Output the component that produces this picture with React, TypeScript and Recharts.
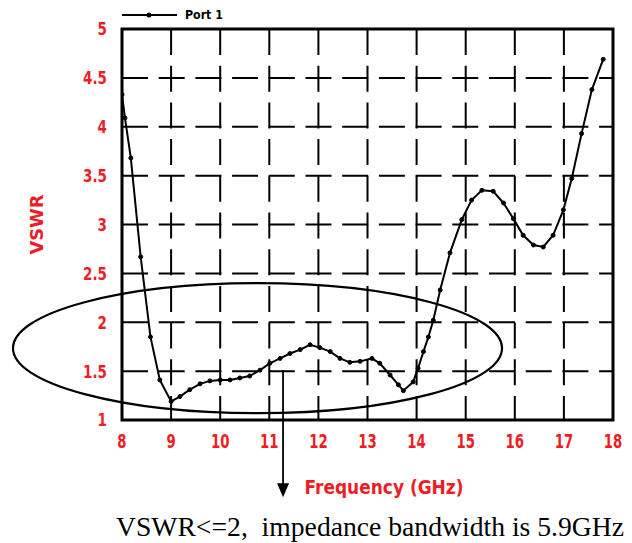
import React from "react";
import {
  LineChart,
  Line,
  XAxis,
  YAxis,
  CartesianGrid,
  ReferenceArea,
  ReferenceLine,
} from "recharts";

// ---- data ----
const FREQ = [
  8.0, 8.06, 8.18, 8.38, 8.58, 8.77, 9.0, 9.18, 9.38, 9.59, 9.79, 10.0, 10.2,
  10.4, 10.6, 10.81, 11.01, 11.22, 11.42, 11.63, 11.83, 12.03, 12.24, 12.44,
  12.64, 12.85, 13.09, 13.25, 13.46, 13.63, 13.73, 13.93, 14.03, 14.14, 14.24,
  14.34, 14.48, 14.68, 14.92, 15.12, 15.33, 15.56, 15.77, 15.97, 16.17, 16.38,
  16.58, 16.78, 16.99, 17.16, 17.36, 17.57, 17.8,
];
const VSWR = [
  4.33, 4.09, 3.68, 2.67, 1.85, 1.41, 1.19, 1.24, 1.31, 1.37, 1.4, 1.41, 1.41,
  1.43, 1.45, 1.51, 1.58, 1.63, 1.68, 1.72, 1.77, 1.74, 1.7, 1.63, 1.59, 1.6,
  1.63, 1.58, 1.46, 1.36, 1.3, 1.39, 1.53, 1.7, 1.85, 2.02, 2.33, 2.71, 3.05,
  3.25, 3.35, 3.34, 3.22, 3.06, 2.89, 2.79, 2.77, 2.89, 3.15, 3.47, 3.93, 4.38,
  4.69,
];
const X_TICKS = [8, 9, 10, 11, 12, 13, 14, 15, 16, 17, 18];
const Y_TICKS = [1, 1.5, 2, 2.5, 3, 3.5, 4, 4.5, 5];
const SERIES_NAME = "Port 1";
const X_TITLE = "Frequency (GHz)";
const Y_TITLE = "VSWR";
const NOTE = "VSWR<=2,\u00a0 impedance bandwidth is 5.9GHz";

// annotation extents in data units
const ELLIPSE_X = [5.78, 15.74];
const ELLIPSE_Y = [1.07, 2.4];
const ARROW_X = 11.28;
const ARROW_Y = [1.51, 0.21];

const data = FREQ.map((f, i) => ({ f, v: VSWR[i] }));

const RED = "#ee1c25";
const LABEL_FONT = "'DejaVu Sans','Noto Sans',sans-serif";

const XLabel = (props: any) => {
  const vb = props.viewBox || { x: 114, y: 412, width: 491, height: 123 };
  return (
    <g>
      <g transform={`translate(${vb.x + 262}, ${vb.y + 74}) scale(0.85, 1)`}>
        <text
          x={0}
          y={0}
          textAnchor="middle"
          fill={RED}
          fontFamily={LABEL_FONT}
          fontWeight="bold"
          fontSize={20}
        >
          {X_TITLE}
        </text>
      </g>
      <text
        x={vb.x - 6}
        y={vb.y + 116}
        fill="#000"
        fontFamily="'Liberation Serif','Times New Roman',serif"
        fontSize={28}
        textLength={508}
        lengthAdjust="spacingAndGlyphs"
      >
        {NOTE}
      </text>
    </g>
  );
};

const YLabel = (props: any) => {
  const vb = props.viewBox || { x: 0, y: 21, width: 114, height: 391 };
  const cx = vb.x + 29;
  const cy = vb.y + vb.height / 2;
  const ax = vb.x + vb.width;
  const ly = vb.y - 14;
  return (
    <g>
      <g transform={`translate(${cx}, ${cy}) rotate(-90) scale(1.05, 1)`}>
        <text
          x={0}
          y={0}
          textAnchor="middle"
          dominantBaseline="central"
          fill={RED}
          fontFamily={LABEL_FONT}
          fontWeight="bold"
          fontSize={17}
        >
          {Y_TITLE}
        </text>
      </g>
      <line x1={ax} y1={ly} x2={ax + 55} y2={ly} stroke="#000" strokeWidth={2} />
      <circle cx={ax + 27} cy={ly} r={2.5} fill="#000" />
      <g transform={`translate(${ax + 63}, ${ly}) scale(0.85, 1)`}>
        <text
          x={0}
          y={0}
          dominantBaseline="central"
          fill="#000"
          fontFamily={LABEL_FONT}
          fontWeight="bold"
          fontSize={13}
        >
          {SERIES_NAME}
        </text>
      </g>
    </g>
  );
};

const XTick = (p: any) => (
  <g transform={`translate(${p.x}, ${p.y}) scale(0.7, 1)`}>
    <text
      x={0}
      y={0}
      dy="0.75em"
      textAnchor="middle"
      fill={RED}
      fontFamily={LABEL_FONT}
      fontWeight="bold"
      fontSize={19}
    >
      {String(p.payload.value)}
    </text>
  </g>
);

const YTick = (p: any) => (
  <g transform={`translate(${p.x}, ${p.y}) scale(0.75, 1)`}>
    <text
      x={0}
      y={0}
      dy="0.36em"
      textAnchor="end"
      fill={RED}
      fontFamily={LABEL_FONT}
      fontWeight="bold"
      fontSize={18}
    >
      {String(p.payload.value)}
    </text>
  </g>
);

const EllipseShape = (p: any) => (
  <ellipse
    cx={p.x + p.width / 2}
    cy={p.y + p.height / 2}
    rx={Math.abs(p.width) / 2}
    ry={Math.abs(p.height) / 2}
    fill="none"
    stroke="#000"
    strokeWidth={2.2}
  />
);

const ArrowShape = (p: any) => {
  const { x1, y1, x2, y2 } = p;
  return (
    <g>
      <line x1={x1} y1={y1} x2={x2} y2={y2 - 12} stroke="#000" strokeWidth={1.8} />
      <polygon
        points={`${x2 - 6},${y2 - 14} ${x2 + 6},${y2 - 14} ${x2},${y2}`}
        fill="#000"
      />
    </g>
  );
};

export default function App() {
  return (
    <div style={{ width: 624, height: 535 }}>
      <LineChart
        width={624}
        height={535}
        data={data}
        margin={{ top: 21, right: 19, bottom: 0, left: 0 }}
      >
        <CartesianGrid
          stroke="#000"
          strokeWidth={2}
          strokeDasharray="26 10.7"
        />
        <XAxis
          dataKey="f"
          type="number"
          domain={[8, 18]}
          ticks={X_TICKS}
          allowDataOverflow
          axisLine={false}
          tickLine={false}
          tickSize={0}
          tickMargin={14}
          height={123}
          tick={XTick}
          label={(p: any) => <XLabel {...p} />}
        />
        <YAxis
          type="number"
          domain={[1, 5]}
          ticks={Y_TICKS}
          allowDataOverflow
          axisLine={false}
          tickLine={false}
          tickSize={0}
          tickMargin={15}
          width={114}
          tick={YTick}
          label={(p: any) => <YLabel {...p} />}
        />
        <ReferenceArea
          x1={8}
          x2={18}
          y1={1}
          y2={5}
          fill="none"
          fillOpacity={0}
          stroke="#000"
          strokeWidth={3}
          ifOverflow="visible"
        />
        <ReferenceArea
          x1={ELLIPSE_X[0]}
          x2={ELLIPSE_X[1]}
          y1={ELLIPSE_Y[0]}
          y2={ELLIPSE_Y[1]}
          ifOverflow="visible"
          shape={EllipseShape}
        />
        <Line
          type="linear"
          dataKey="v"
          name={SERIES_NAME}
          stroke="#000"
          strokeWidth={2}
          dot={{ r: 2, fill: "#000", stroke: "#000", strokeWidth: 1 }}
          isAnimationActive={false}
        />
        <ReferenceLine
          segment={[
            { x: ARROW_X, y: ARROW_Y[0] },
            { x: ARROW_X, y: ARROW_Y[1] },
          ]}
          ifOverflow="visible"
          shape={ArrowShape}
        />
      </LineChart>
    </div>
  );
}
